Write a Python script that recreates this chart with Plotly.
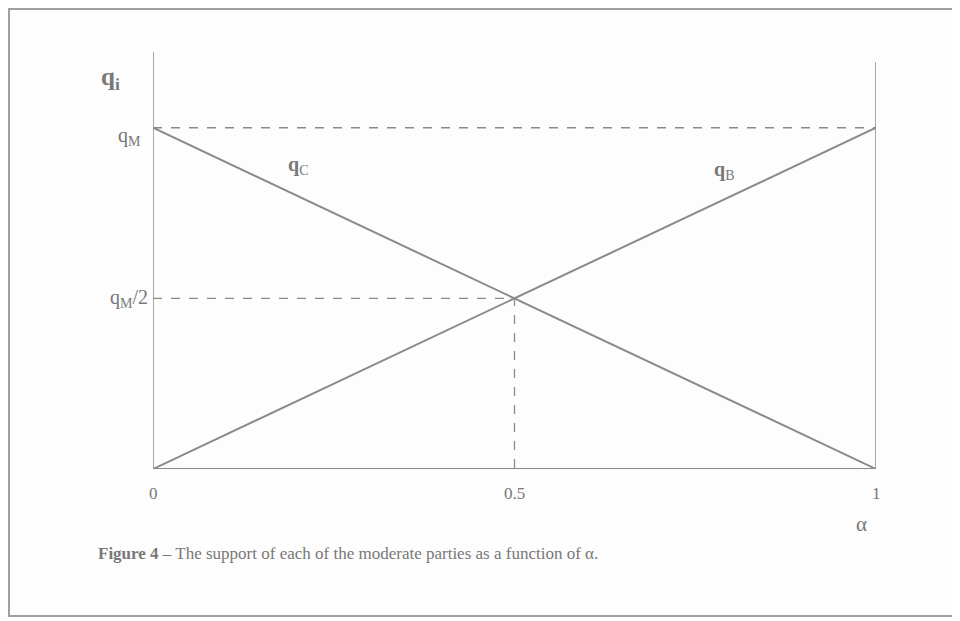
import plotly.graph_objects as go

# Data
alpha = [0, 1]
q_C = [1, 0]          # support of C (in units of q_M)
q_B = [0, 1]          # support of B
x_ticks = [0, 0.5, 1]
x_tick_labels = ["0", "0.5", "1"]
y_ticks = [1, 0.5]
y_tick_labels = ["q<sub>M</sub>", "q<sub>M</sub>/2"]
y_top = 1.222

LINE = "#8a8a8a"
TEXT = "#787878"
FONT = "Liberation Serif"

# page body margin offset (browser adds 8px)
OFF = 8
L, T, PW, PH = 153 - OFF, 52 - OFF, 723, 417
W, H = 960, 621


def px(xs):
    return (xs - OFF - L) / PW


def py(ys):
    return (T + PH - (ys - OFF)) / PH


fig = go.Figure()

fig.add_trace(go.Scatter(x=alpha, y=q_C, mode="lines", line=dict(color=LINE, width=2), hoverinfo="skip"))
fig.add_trace(go.Scatter(x=alpha, y=q_B, mode="lines", line=dict(color=LINE, width=2), hoverinfo="skip"))

fig.add_trace(go.Scatter(x=[0, 1], y=[1, 1], mode="lines", line=dict(color=LINE, width=1.3, dash="dash"), hoverinfo="skip"))
fig.add_trace(go.Scatter(x=[0, 0.5, 0.5], y=[0.5, 0.5, 0], mode="lines", line=dict(color=LINE, width=1.3, dash="dash"), hoverinfo="skip"))

fig.add_trace(go.Scatter(x=[0, 0], y=[0, y_top], mode="lines", line=dict(color=LINE, width=1.5), hoverinfo="skip"))
fig.add_trace(go.Scatter(x=[1, 1], y=[0, y_top - 0.03], mode="lines", line=dict(color=LINE, width=1.5), hoverinfo="skip"))
fig.add_trace(go.Scatter(x=[0, 1], y=[0, 0], mode="lines", line=dict(color=LINE, width=2), hoverinfo="skip"))

annotations = []
for v, t in zip(x_ticks, x_tick_labels):
    annotations.append(dict(x=v, y=0, xref="x", yref="y", text=t, showarrow=False,
                            yanchor="top", yshift=-13, font=dict(family=FONT, size=17, color=TEXT)))
for v, t, ys, xs in zip(y_ticks, y_tick_labels, [-9, 0], [-10, -3]):
    annotations.append(dict(x=0, y=v, xref="x", yref="y", text=t, showarrow=False,
                            xanchor="right", xshift=xs, yshift=ys, font=dict(family=FONT, size=20, color=TEXT)))

annotations += [
    dict(x=0, y=y_top, xref="x", yref="y", text="<b>q</b><sub><b>i</b></sub>", showarrow=False,
         xanchor="right", xshift=-31, yshift=-26, font=dict(family=FONT, size=25, color=TEXT)),
    dict(x=0.2, y=0.89, xref="x", yref="y", text="<b>q</b><sub>C</sub>", showarrow=False,
         font=dict(family=FONT, size=20, color=TEXT)),
    dict(x=0.79, y=0.875, xref="x", yref="y", text="<b>q</b><sub>B</sub>", showarrow=False,
         font=dict(family=FONT, size=20, color=TEXT)),
    dict(x=0.98, y=0, xref="x", yref="y", text="α", showarrow=False,
         yanchor="top", yshift=-41, font=dict(family=FONT, size=21, color=TEXT)),
    dict(x=px(96), y=py(553), xref="paper", yref="paper", xanchor="left", yanchor="middle",
         text="<b>Figure 4</b> – The support of each of the moderate parties as a function of α.",
         showarrow=False, font=dict(family=FONT, size=17, color=TEXT)),
]

fig.update_layout(
    width=W, height=H,
    margin=dict(l=L, r=W - L - PW, t=T, b=H - T - PH),
    paper_bgcolor="#fdfdfd", plot_bgcolor="#fdfdfd",
    showlegend=False,
    xaxis=dict(range=[0, 1], visible=False, fixedrange=True),
    yaxis=dict(range=[0, y_top], visible=False, fixedrange=True),
    annotations=annotations,
    shapes=[
        dict(type="rect", xref="paper", yref="paper",
             x0=px(9), x1=px(990), y0=py(616), y1=py(9),
             line=dict(color="#a0a0a0", width=2)),
    ],
)

fig.write_html("out.html")
